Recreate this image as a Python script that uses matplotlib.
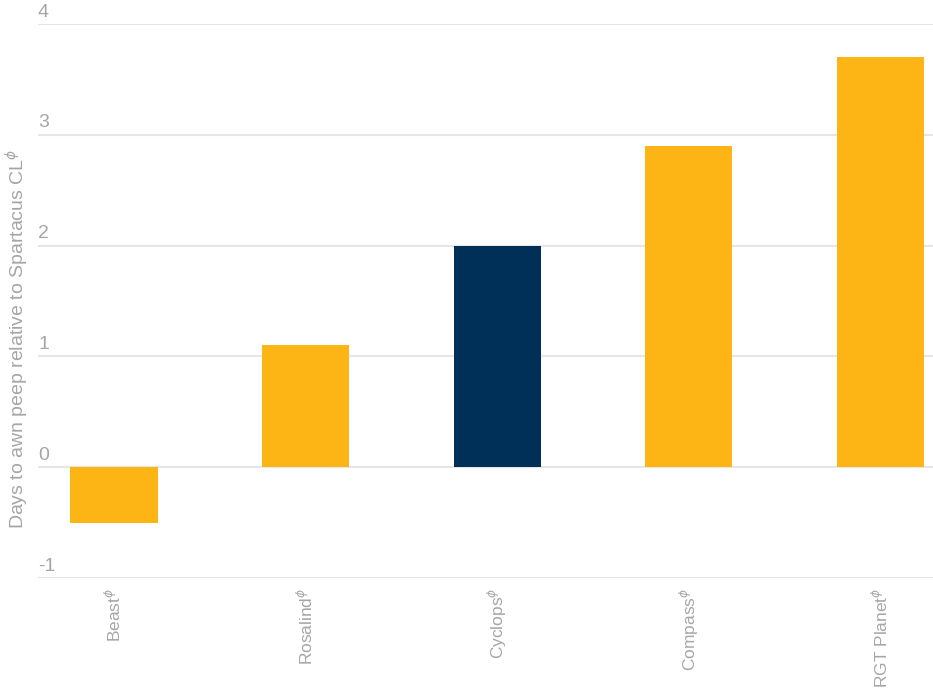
import numpy as np
import matplotlib
matplotlib.use('Agg')
from matplotlib import pyplot as plt
from matplotlib import transforms

# chart data
varieties = ['Beast', 'Rosalind', 'Cyclops', 'Compass', 'RGT Planet']
days = [-0.5, 1.1, 2.0, 2.9, 3.7]
highlight = 'Cyclops'
yticks = [-1, 0, 1, 2, 3, 4]

orange = '#FDB515'
navy = '#003057'
grey = '#a6a6a6'

plt.rcParams['font.family'] = ['Liberation Sans', 'DejaVu Sans']

fig = plt.figure(figsize=(9.33, 6.92), dpi=100)
ax = fig.add_axes([38/933, 114/692, 895/933, 554/692])

x = np.arange(len(varieties))
colors = [navy if v == highlight else orange for v in varieties]
ax.bar(x, days, width=0.455, color=colors, zorder=3)

ax.set_ylim(-1, 4)
ax.set_xlim(-0.397, 4.274)
ax.set_yticks(yticks)
ax.yaxis.grid(True, color='#e6e6e6', linewidth=1.5, zorder=0)
ax.tick_params(axis='y', length=0, labelleft=False)
for s in ax.spines.values():
    s.set_visible(False)

# y tick labels sit above the gridlines at the left edge
trans = transforms.blended_transform_factory(ax.transAxes, ax.transData)
for t in yticks:
    ax.text(0.0, t + 0.03, str(t), transform=trans, ha='left', va='bottom',
            fontsize=14, color=grey)

labels = [v + r'$^{\phi}$' for v in varieties]
ax.set_xticks(x)
ax.set_xticklabels(labels, rotation=90, fontsize=12.5, color=grey)
ax.tick_params(axis='x', length=0, pad=7)

fig.text(0.019, 0.51, r'Days to awn peep relative to Spartacus CL$^{\phi}$',
         rotation=90, ha='center', va='center', fontsize=14, color=grey)

fig.savefig('out.png', dpi=100)
